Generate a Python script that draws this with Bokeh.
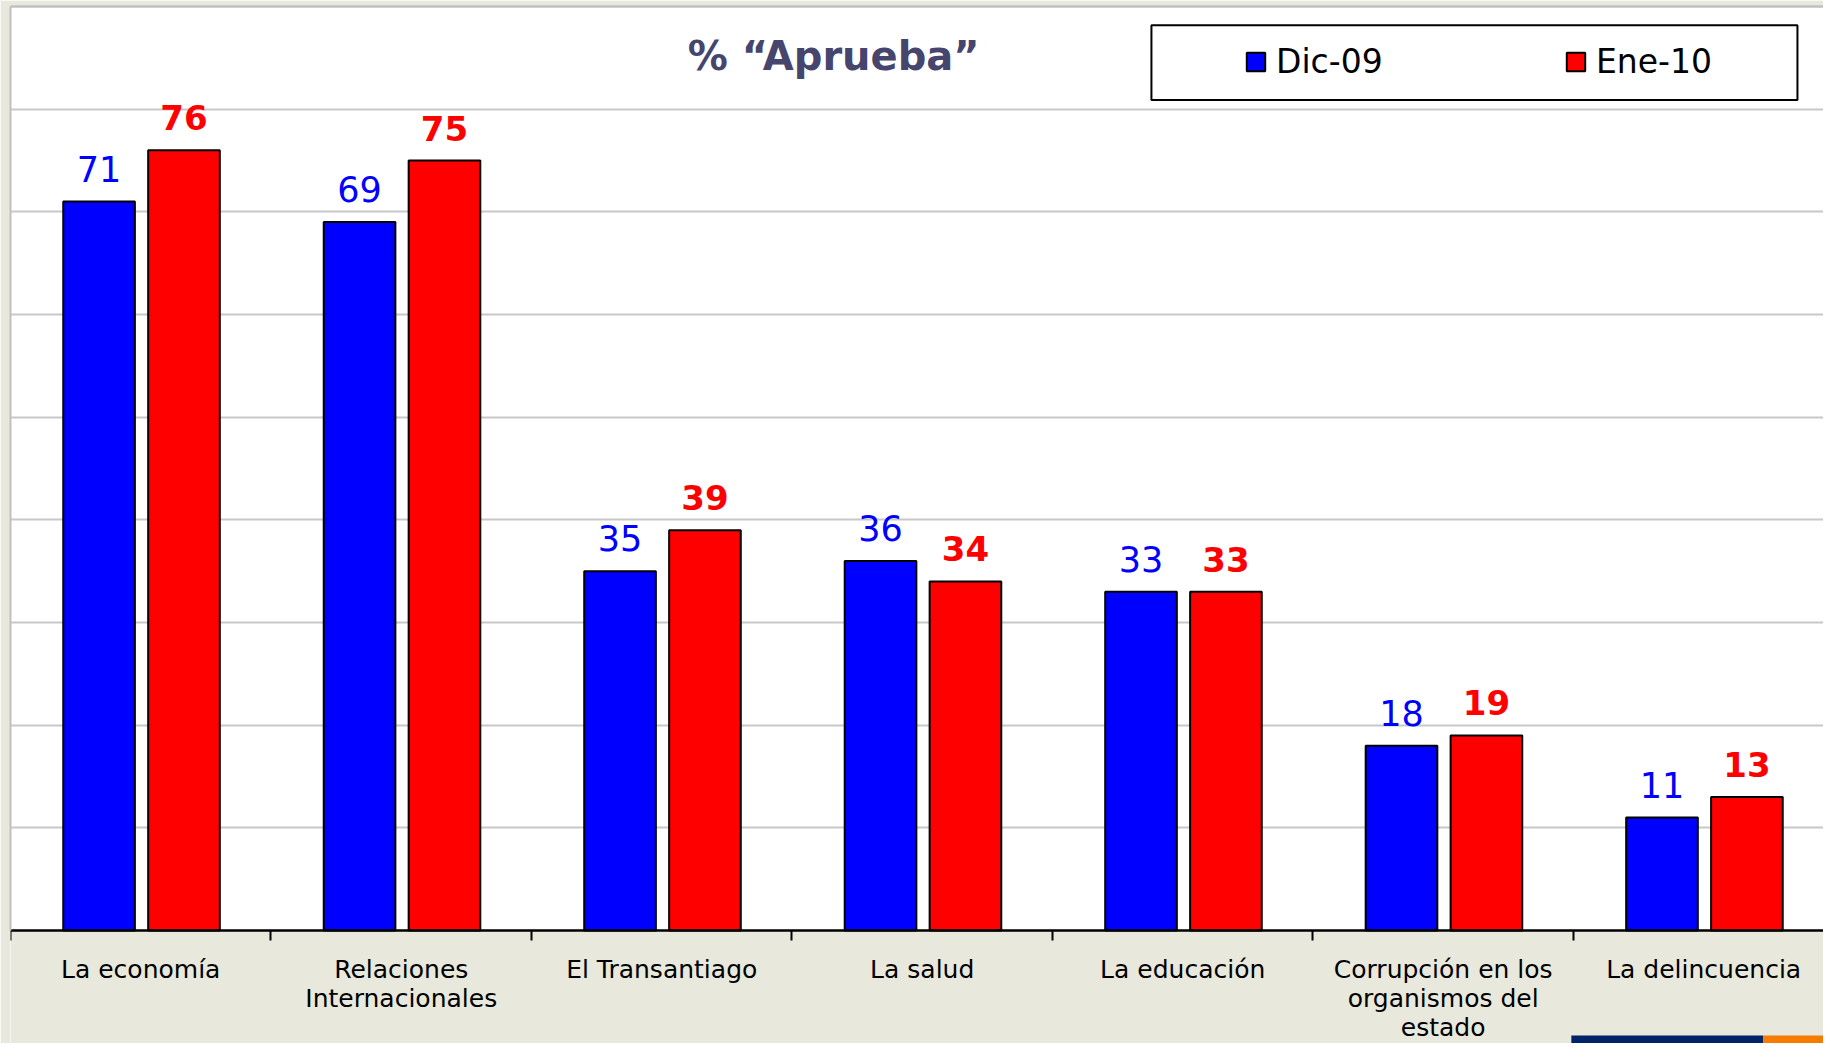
from bokeh.plotting import figure
from bokeh.models import (ColumnDataSource, LabelSet, Legend, LegendItem, FixedTicker,
                          BoxAnnotation, Label, Range1d, LinearAxis)
from bokeh.core.properties import value
from bokeh.embed import file_html
from bokeh.resources import INLINE

categories = ["La economía", "Relaciones\nInternacionales", "El Transantiago", "La salud",
              "La educación", "Corrupción en los\norganismos del\nestado", "La delincuencia"]
dic09 = [71, 69, 35, 36, 33, 18, 11]
ene10 = [76, 75, 39, 34, 33, 19, 13]
series_names = ["Dic-09", "Ene-10"]
title_text = "% \u201cAprueba\u201d"
grid_values = [10, 20, 30, 40, 50, 60, 70, 80]

FONT = "DejaVu Sans"
BEIGE = "#E9E8DC"
n = len(categories)
idx = list(range(n))
src = ColumnDataSource(dict(
    xb=[i + 0.34 for i in idx], xr=[i + 0.666 for i in idx],
    dic=dic09, ene=ene10,
    dic_lbl=[str(v) for v in dic09], ene_lbl=[str(v) for v in ene10]))

p = figure(width=1823, height=1043, output_backend="svg", toolbar_location=None,
           x_range=Range1d(0, 6.96), y_range=Range1d(-11.0, 90),
           min_border_left=10, min_border_right=0, min_border_top=6, min_border_bottom=0,
           background_fill_color="white", border_fill_color=BEIGE,
           outline_line_color=None)

# area below the baseline shares the slide's beige background
p.add_layout(BoxAnnotation(top=0, fill_color=BEIGE, fill_alpha=1, line_alpha=0, level="underlay"))
# slide decoration strip at the bottom right
p.add_layout(BoxAnnotation(left=5.992, right=6.729, top=-10.22, fill_color="#002266",
                           fill_alpha=1, line_alpha=0, level="underlay"))
p.add_layout(BoxAnnotation(left=6.729, top=-10.22, fill_color="#F57C00",
                           fill_alpha=1, line_alpha=0, level="underlay"))

# x axis drawn at value 0: names at category centres, tick marks at category boundaries
xa = p.xaxis[0]
xa.fixed_location = 0
xa.ticker = FixedTicker(ticks=[i + 0.5 for i in idx], minor_ticks=list(range(n + 1)))
xa.major_label_overrides = {i + 0.5: c for i, c in zip(idx, categories)}
xa.major_tick_out = 0
xa.major_tick_in = 0
xa.minor_tick_out = 10
xa.minor_tick_in = 0
xa.minor_tick_line_color = "black"
xa.minor_tick_line_width = 2
xa.axis_line_color = "black"
xa.axis_line_width = 2.5
xa.major_label_text_font = FONT
xa.major_label_text_font_size = "25px"
xa.major_label_text_color = "black"
xa.major_label_text_line_height = 1.0
xa.major_label_standoff = 14

ya = p.yaxis[0]
ya.ticker = FixedTicker(ticks=[])
ya.bounds = (0, 90)
ya.axis_line_color = "#C0C0C0"
ya.axis_line_width = 2
ya.major_tick_out = 0
ya.minor_tick_out = 0
ya.major_label_standoff = 0

top_axis = LinearAxis(ticker=FixedTicker(ticks=[]), axis_line_color="#C0C0C0", axis_line_width=2.5,
                      major_tick_out=0, minor_tick_out=0, major_label_standoff=0)
p.add_layout(top_axis, "above")

p.xgrid.visible = False
p.ygrid.ticker = FixedTicker(ticks=grid_values)
p.ygrid.grid_line_color = "#C8C8C8"
p.ygrid.grid_line_width = 2

r1 = p.vbar(x="xb", top="dic", width=0.275, source=src, fill_color="#0000FF",
            line_color="black", line_width=2)
r2 = p.vbar(x="xr", top="ene", width=0.275, source=src, fill_color="#FF0000",
            line_color="black", line_width=2)

p.add_layout(LabelSet(x="xb", y="dic", text="dic_lbl", source=src, y_offset=20,
                      text_align="center", text_baseline="alphabetic",
                      text_font=value(FONT), text_font_size="35px", text_color="#0000FF"))
p.add_layout(LabelSet(x="xr", y="ene", text="ene_lbl", source=src, y_offset=20,
                      text_align="center", text_baseline="alphabetic",
                      text_font=value(FONT), text_font_size="34px", text_font_style="bold",
                      text_color="#FF0000"))

p.add_layout(Label(x=3.16, y=85.2, text=title_text, text_align="center", text_baseline="middle",
                   text_font=FONT, text_font_size="40px", text_font_style="bold",
                   text_color="#45456E"))

p.add_layout(BoxAnnotation(left=4.380, right=6.860, bottom=80.9, top=88.17,
                           fill_color="white", fill_alpha=1, line_color="black",
                           line_width=2, line_alpha=1))

legend = Legend(items=[LegendItem(label=series_names[0], renderers=[r1]),
                       LegendItem(label=series_names[1], renderers=[r2])],
                orientation="horizontal", location=(1234, 962), margin=0, padding=0,
                spacing=0, label_standoff=9, glyph_width=23, glyph_height=23,
                label_width=288, label_text_font=FONT, label_text_font_size="33px",
                label_text_color="black", background_fill_alpha=0, border_line_alpha=0)
p.add_layout(legend)

open("out.html", "w").write(file_html(p, INLINE))
